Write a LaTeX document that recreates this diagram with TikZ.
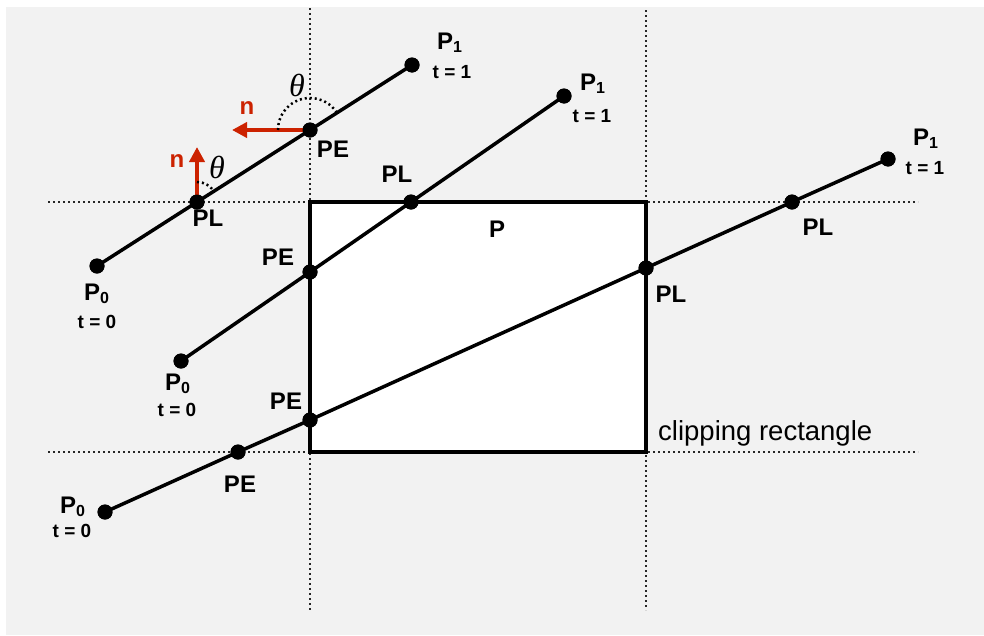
\documentclass[tikz,border=0pt]{standalone}
\usepackage{fontspec}
\setmainfont{Liberation Sans}
\newfontfamily\thfont{Liberation Serif}
\usetikzlibrary{arrows.meta}
\definecolor{bgc}{RGB}{242,242,242}
\definecolor{nred}{RGB}{204,34,0}
\newcommand{\fsz}[1]{\fontsize{#1}{#1}\selectfont}
\newcommand{\Pidx}[1]{P\raisebox{-3pt}{\fsz{16}#1}}
\begin{document}
\begin{tikzpicture}[x=1pt,y=-1pt,
  pt/.style={circle,fill=black,inner sep=0pt,minimum size=15pt},
  seg/.style={line width=3.5pt},
  guide/.style={line width=1.4pt,dash pattern=on 1.8pt off 3.2pt,black!85},
  cliprect/.style={draw,fill=white,line width=3.5pt,inner sep=0pt,outer sep=0pt,minimum width=336pt,minimum height=250pt,anchor=north west},
  lbl/.style={font=\fsz{24}\bfseries,inner sep=0pt},
  tlbl/.style={font=\fsz{19}\bfseries,inner sep=0pt},
  plbl/.style={font=\fsz{24}\bfseries,inner sep=0pt,anchor=base west},
  nvec/.style={line width=4pt,nred,-{Triangle[length=15pt,width=15pt]}},
  nlbl/.style={font=\fsz{24}\bfseries,text=nred,inner sep=0pt},
  arcline/.style={line width=2.5pt,dash pattern=on 2pt off 3pt},
  th/.style={font=\thfont\itshape\fsz{32},inner sep=0pt}
]
\useasboundingbox (0,0) rectangle (984,635);
\fill[bgc] (6,7) rectangle (984,635);

% guide lines
\coordinate (v1t) at (310,8);  \coordinate (v1b) at (310,610);
\coordinate (v2t) at (646,10); \coordinate (v2b) at (646,610);
\coordinate (h1l) at (48,202); \coordinate (h1r) at (918,202);
\coordinate (h2l) at (48,452); \coordinate (h2r) at (918,452);
\draw[guide] (v1t) -- (v1b);
\draw[guide] (v2t) -- (v2b);
\draw[guide] (h1l) -- (h1r);
\draw[guide] (h2l) -- (h2r);

% clipping rectangle
\node[cliprect] (clip) at (310,202) {};

% points
\node[pt] (A0) at (97,266) {};
\node[pt] (A1) at (412,65) {};
\node[pt] (APL) at (197,202) {};
\node[pt] (APE) at (310,130) {};
\node[pt] (B0) at (181,361) {};
\node[pt] (B1) at (564,96) {};
\node[pt] (BPE) at (310,272) {};
\node[pt] (BPL) at (411,202) {};
\node[pt] (C0) at (105,512) {};
\node[pt] (C1) at (888,159) {};
\node[pt] (CPE1) at (238,452) {};
\node[pt] (CPE2) at (310,420) {};
\node[pt] (CPL1) at (646,268) {};
\node[pt] (CPL2) at (792,202) {};

% segments
\draw[seg] (A0.center) -- (APL.center) -- (APE.center) -- (A1.center);
\draw[seg] (B0.center) -- (BPE.center) -- (BPL.center) -- (B1.center);
\draw[seg] (C0.center) -- (CPE1.center) -- (CPE2.center) -- (CPL1.center) -- (CPL2.center) -- (C1.center);

% normals
\coordinate (nA) at (232,130);
\coordinate (nB) at (197,147);
\draw[nvec] (APE.center) -- (nA);
\draw[nvec] (APL.center) -- (nB);
\draw[arcline] (APE.center) ++(180:32) arc[start angle=180,end angle=327.5,radius=32];
\draw[arcline] (APL.center) ++(270:20) arc[start angle=270,end angle=327.5,radius=20];
\node[nlbl] (nAl) at (247,108) {n};
\node[nlbl] (nBl) at (177,161) {n};
\node[th] (thA) at (297,85) {θ};
\node[th] (thB) at (217,167) {θ};

% redraw dots on top
\foreach \p in {A0,A1,APL,APE,B0,B1,BPE,BPL,C0,C1,CPE1,CPE2,CPL1,CPL2}
  \fill (\p.center) circle[radius=7.5pt];

% end point labels
\node[plbl] (A1l) at (437,49) {\Pidx{1}};
\node[tlbl] (A1t) at (452,72) {t = 1};
\node[plbl] (B1l) at (580,90) {\Pidx{1}};
\node[tlbl] (B1t) at (592,116) {t = 1};
\node[plbl] (C1l) at (913,145) {\Pidx{1}};
\node[tlbl] (C1t) at (925,168) {t = 1};
\node[plbl] (A0l) at (84,300) {\Pidx{0}};
\node[tlbl] (A0t) at (97,322) {t = 0};
\node[plbl] (B0l) at (165,390) {\Pidx{0}};
\node[tlbl] (B0t) at (177,410) {t = 0};
\node[plbl] (C0l) at (60,513) {\Pidx{0}};
\node[tlbl] (C0t) at (72,531) {t = 0};

% intersection labels
\node[lbl] (APEl) at (333,149) {PE};
\node[lbl] (APLl) at (208,218) {PL};
\node[lbl] (BPLl) at (397,174) {PL};
\node[lbl] (BPEl) at (278,257) {PE};
\node[lbl] (CPE2l) at (286,401) {PE};
\node[lbl] (CPE1l) at (240,484) {PE};
\node[lbl] (CPL1l) at (671,294) {PL};
\node[lbl] (CPL2l) at (818,227) {PL};
\node[lbl] (Pl) at (497,229) {P};
\node[font=\fsz{27.5},anchor=base west,inner sep=0pt] (cliplbl) at (658,440) {clipping rectangle};
\end{tikzpicture}
\end{document}
